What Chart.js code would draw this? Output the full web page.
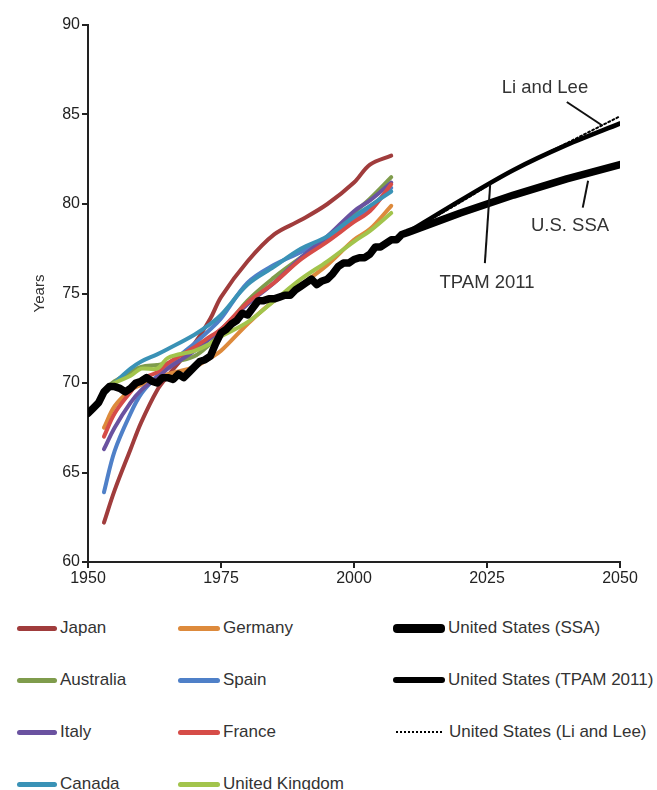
<!DOCTYPE html>
<html>
<head>
<meta charset="utf-8">
<script src="https://cdn.jsdelivr.net/npm/chart.js@4.4.1/dist/chart.umd.min.js"></script>
<style>
  body { margin: 0; background: #fff; font-family: "Liberation Sans", Arial, sans-serif; }
  #wrap { position: relative; width: 657px; height: 790px; }
  #chart { position: absolute; left: 0; top: 0; }
  #legend { position: absolute; left: 0; top: 602px; width: 657px; }
  .item { position: absolute; display: flex; align-items: center; height: 24px; font-size: 17px; color: #333; white-space: nowrap; }
  .swatch { display: inline-block; margin-right: 3px; border-radius: 4px; }
</style>
</head>
<body>
<div id="wrap">
  <canvas id="chart" width="657" height="595"></canvas>
  <div id="legend"></div>
</div>
<script>
// ===== Data =====
const countryYears = [1953, 1955, 1958, 1960, 1963, 1965, 1970, 1973, 1975, 1980, 1985, 1990, 1995, 2000, 2003, 2007];
const japan     = [62.2, 64.0, 66.3, 67.8, 69.6, 70.4, 72.2, 73.6, 74.8, 76.8, 78.3, 79.1, 80.0, 81.2, 82.2, 82.7];
const germany   = [67.5, 68.7, 69.6, 69.9, 70.3, 70.5, 70.9, 71.4, 71.8, 73.3, 74.6, 75.5, 76.6, 78.0, 78.6, 79.9];
const australia = [69.6, 70.1, 70.6, 70.9, 71.0, 71.1, 71.5, 72.2, 72.8, 74.6, 75.9, 77.0, 78.0, 79.5, 80.3, 81.5];
const spain     = [63.9, 66.2, 68.3, 69.4, 70.4, 71.0, 72.2, 73.0, 73.6, 75.6, 76.6, 77.3, 78.1, 79.2, 79.8, 80.9];
const italy     = [66.3, 67.5, 68.9, 69.6, 70.3, 70.8, 71.8, 72.5, 73.0, 74.4, 75.6, 77.0, 78.2, 79.6, 80.2, 81.2];
const france    = [67.0, 68.3, 69.5, 70.2, 70.6, 71.1, 72.0, 72.6, 73.0, 74.5, 75.6, 76.9, 77.9, 79.0, 79.6, 81.1];
const canada    = [69.4, 70.0, 70.8, 71.2, 71.6, 71.9, 72.7, 73.3, 73.8, 75.5, 76.5, 77.5, 78.2, 79.3, 79.9, 80.7];
const uk        = [69.5, 70.0, 70.4, 70.8, 70.8, 71.4, 71.8, 72.2, 72.6, 73.4, 74.6, 75.8, 76.8, 77.9, 78.5, 79.5];

const usYears = [1950, 1951, 1952, 1953, 1954, 1955, 1956, 1957, 1958, 1959, 1960, 1961, 1962, 1963, 1964, 1965,
  1966, 1967, 1968, 1969, 1970, 1971, 1972, 1973, 1974, 1975, 1976, 1977, 1978, 1979, 1980, 1981, 1982, 1983,
  1984, 1985, 1986, 1987, 1988, 1989, 1990, 1991, 1992, 1993, 1994, 1995, 1996, 1997, 1998, 1999, 2000, 2001,
  2002, 2003, 2004, 2005, 2006, 2007, 2008, 2009, 2010];
const usHistory = [68.3, 68.6, 68.9, 69.5, 69.8, 69.8, 69.7, 69.5, 69.7, 70.0, 70.1, 70.3, 70.1, 70.0, 70.3, 70.3,
  70.2, 70.5, 70.3, 70.6, 70.9, 71.2, 71.3, 71.5, 72.2, 72.8, 73.0, 73.3, 73.5, 73.9, 73.8, 74.2, 74.6, 74.6,
  74.7, 74.7, 74.8, 74.9, 74.9, 75.2, 75.4, 75.6, 75.8, 75.5, 75.7, 75.8, 76.1, 76.5, 76.7, 76.7, 76.9, 77.0,
  77.0, 77.2, 77.6, 77.6, 77.8, 78.0, 78.0, 78.3, 78.4];

const projYears = [2010, 2020, 2030, 2040, 2050];
const ssaProj   = [78.4, 79.5, 80.5, 81.4, 82.2];
const tpamProj  = [78.4, 80.2, 81.9, 83.3, 84.5];
const liLeeProj = [78.4, 80.1, 81.9, 83.4, 84.9];

const xTicks = [1950, 1975, 2000, 2025, 2050];

const pts = (xs, ys) => xs.map((x, i) => ({ x, y: ys[i] }));

const countries = [
  { label: 'Japan', data: japan, color: '#a03c3c' },
  { label: 'Germany', data: germany, color: '#dd8a3c' },
  { label: 'Australia', data: australia, color: '#7f9c4c' },
  { label: 'Spain', data: spain, color: '#4f80c8' },
  { label: 'Italy', data: italy, color: '#6a52a0' },
  { label: 'France', data: france, color: '#d64c48' },
  { label: 'Canada', data: canada, color: '#3a92b6' },
  { label: 'United Kingdom', data: uk, color: '#a2c44c' },
];

const datasets = countries.map((c, i) => ({
  label: c.label,
  data: pts(countryYears, c.data),
  borderColor: c.color,
  borderWidth: 4,
  tension: 0.35,
  order: 10 - i,
  legendWidth: 5,
}));

datasets.push({
  label: 'United States (SSA)',
  data: pts(usYears, usHistory).concat(pts(projYears.slice(1), ssaProj.slice(1))),
  borderColor: '#000', borderWidth: 7.5, tension: 0, order: 1, legendWidth: 9,
});
datasets.push({
  label: 'United States (TPAM 2011)',
  data: pts(projYears, tpamProj),
  borderColor: '#000', borderWidth: 4.5, tension: 0.3, order: 0, legendWidth: 6,
});
datasets.push({
  label: 'United States (Li and Lee)',
  data: pts(projYears, liLeeProj),
  borderColor: '#000', borderWidth: 2, borderDash: [2, 2.5], tension: 0.3, order: -1, legendWidth: 2, dotted: true,
});

datasets.forEach(d => {
  d.pointRadius = 0;
  d.fill = false;
  d.borderCapStyle = 'round';
  d.borderJoinStyle = 'round';
});

// ===== Callout labels =====
const callouts = [
  { text: 'Li and Lee', at: [2035.9, 86.5], line: [[2040.0, 85.7], [2046.6, 84.4]] },
  { text: 'U.S. SSA', at: [2040.6, 78.8], line: [[2043.0, 79.8], [2044.0, 81.3]] },
  { text: 'TPAM 2011', at: [2025.0, 75.6], line: [[2024.6, 76.7], [2025.6, 81.1]] },
];

const calloutPlugin = {
  id: 'callouts',
  afterDatasetsDraw(chart) {
    const { ctx, scales: { x, y } } = chart;
    ctx.save();
    ctx.strokeStyle = '#111';
    ctx.lineWidth = 2;
    ctx.fillStyle = '#333';
    ctx.font = '18.5px "Liberation Sans", Arial, sans-serif';
    ctx.textAlign = 'center';
    ctx.textBaseline = 'middle';
    callouts.forEach(c => {
      ctx.beginPath();
      ctx.moveTo(x.getPixelForValue(c.line[0][0]), y.getPixelForValue(c.line[0][1]));
      ctx.lineTo(x.getPixelForValue(c.line[1][0]), y.getPixelForValue(c.line[1][1]));
      ctx.stroke();
      ctx.fillText(c.text, x.getPixelForValue(c.at[0]), y.getPixelForValue(c.at[1]));
    });
    ctx.restore();
  }
};

// ===== Chart =====
const tickFont = { family: '"Liberation Sans", Arial, sans-serif', size: 16 };
const chart = new Chart(document.getElementById('chart'), {
  type: 'line',
  data: { datasets },
  options: {
    responsive: false,
    animation: false,
    layout: { padding: { top: 25, right: 37, bottom: 0, left: 0 } },
    plugins: { legend: { display: false }, tooltip: { enabled: false } },
    scales: {
      x: {
        type: 'linear', min: 1950, max: 2050,
        afterBuildTicks: s => { s.ticks = xTicks.map(v => ({ value: v })); },
        ticks: { callback: v => String(v), color: '#222', font: tickFont, padding: 1, maxRotation: 0 },
        grid: { drawOnChartArea: false, tickLength: 6, color: '#222', lineWidth: 2 },
        border: { color: '#222', width: 2 },
        afterFit: s => { s.height = 33; },
      },
      y: {
        min: 60, max: 90,
        ticks: { stepSize: 5, color: '#222', font: tickFont, padding: 2 },
        grid: { drawOnChartArea: false, tickLength: 6, color: '#222', lineWidth: 2 },
        border: { color: '#222', width: 2 },
        title: { display: true, text: 'Years', color: '#333', font: { ...tickFont, size: 15 }, padding: { top: 31, bottom: 0 } },
        afterFit: s => { s.width = 88; },
      },
    },
  },
  plugins: [calloutPlugin],
});

// ===== Legend (three columns) =====
const legendCols = [
  ['Japan', 'Australia', 'Italy', 'Canada'],
  ['Germany', 'Spain', 'France', 'United Kingdom'],
  ['United States (SSA)', 'United States (TPAM 2011)', 'United States (Li and Lee)'],
];
const colX = [17, 178, 393];
const swatchW = [40, 42, 52];
const legendEl = document.getElementById('legend');
legendCols.forEach((col, ci) => {
  col.forEach((name, ri) => {
    const ds = chart.data.datasets.find(d => d.label === name);
    const item = document.createElement('div');
    item.className = 'item';
    item.style.left = colX[ci] + 'px';
    item.style.top = (ri * 52 + 14) + 'px';
    const sw = document.createElement('span');
    sw.className = 'swatch';
    sw.style.width = swatchW[ci] + 'px';
    if (ds.dotted) {
      sw.style.borderTop = '2px dotted #000';
      sw.style.borderRadius = '0';
      sw.style.width = (swatchW[ci] - 6) + 'px';
      sw.style.marginRight = '7px';
      sw.style.marginLeft = '3px';
    } else {
      sw.style.height = ds.legendWidth + 'px';
      sw.style.background = ds.borderColor;
    }
    item.appendChild(sw);
    item.appendChild(document.createTextNode(name));
    legendEl.appendChild(item);
  });
});
</script>
</body>
</html>
